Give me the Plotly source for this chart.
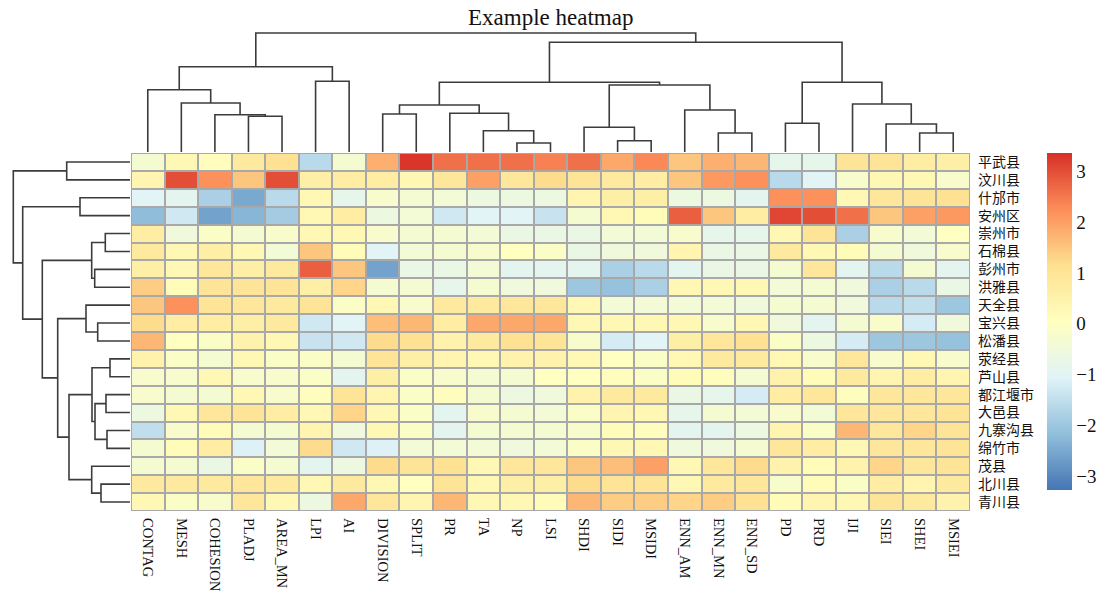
import plotly.graph_objects as go

# ---------------- data ----------------
columns = ["CONTAG", "MESH", "COHESION", "PLADJ", "AREA_MN", "LPI", "AI", "DIVISION", "SPLIT",
           "PR", "TA", "NP", "LSI", "SHDI", "SIDI", "MSIDI", "ENN_AM", "ENN_MN", "ENN_SD",
           "PD", "PRD", "IJI", "SIEI", "SHEI", "MSIEI"]
rows = ["平武县", "汶川县", "什邡市", "安州区", "崇州市", "石棉县", "彭州市", "洪雅县", "天全县", "宝兴县",
        "松潘县", "荥经县", "芦山县", "都江堰市", "大邑县", "九寨沟县", "绵竹市", "茂县", "北川县", "青川县"]

values = [
    [-0.3, 0.3, 0.1, 0.8, 1.1, -1.6, -0.3, 1.8, 3.3, 2.6, 2.6, 2.6, 2.4, 2.6, 1.9, 2.3, 1.5, 1.8, 1.7, -0.8, -0.8, 1.0, 1.0, 0.7, 0.6],
    [0.4, 3.0, 2.2, 1.5, 3.0, 0.6, 0.7, 0.7, 0.3, 0.9, 2.0, 0.9, 1.2, 1.0, 0.8, 0.7, 1.5, 2.1, 2.2, -1.6, -1.0, -0.2, 0.3, 0.3, -0.2],
    [-1.0, -0.9, -1.8, -2.5, -1.6, 0.3, -0.8, -0.2, -0.3, -0.4, -0.6, -0.6, -0.6, 0.4, 0.6, 0.6, -0.6, -0.6, -0.9, 2.2, 2.2, 0.3, 0.9, 1.0, 1.1],
    [-2.2, -1.3, -2.6, -2.3, -1.9, 0.3, 0.7, -0.6, -0.4, -1.3, -1.0, -1.0, -1.4, -0.3, 0.3, 0.2, 2.8, 1.5, 0.7, 3.1, 3.0, 2.6, 1.5, 2.0, 2.1],
    [0.7, -0.5, -0.1, -0.3, -0.2, 0.3, 0.3, -0.2, -0.3, -0.3, -0.4, -0.7, -0.7, -0.7, -0.4, -0.4, -0.2, -0.8, -0.8, 0.3, 1.0, -1.8, -0.2, -0.4, 0.0],
    [0.8, 0.3, 0.6, 0.3, -0.4, 1.5, 0.2, -1.0, -0.4, -0.3, -0.2, 0.0, -0.1, -0.7, -0.5, -0.5, 0.4, -0.7, -0.7, 0.8, 0.3, 0.2, -0.3, -0.5, -0.2],
    [0.6, 0.3, 0.9, 0.6, 0.8, 2.8, 1.5, -2.6, -0.7, -0.7, -0.4, -0.9, -0.9, -0.9, -1.8, -1.6, -0.9, -0.7, -0.7, -0.3, 0.9, -0.9, -1.6, -0.3, -0.9],
    [1.4, 0.2, 1.0, 1.0, 1.0, 0.6, 1.3, -0.3, -0.3, -0.8, -0.3, -0.5, -0.5, -2.0, -2.1, -1.8, 0.3, 0.3, 0.3, -0.4, -0.3, -0.5, -1.8, -1.6, -0.7],
    [1.5, 2.2, 1.0, 0.9, 0.8, 1.0, -0.1, 0.3, -0.2, 0.8, 0.8, 0.9, 0.9, 0.3, -0.4, -0.4, -0.4, -0.4, -0.5, -0.3, -0.3, -0.5, -1.6, -1.5, -2.0],
    [1.2, 0.7, 0.7, 0.6, 0.8, -1.3, -1.0, 1.6, 1.7, 0.7, 1.9, 1.9, 1.9, 0.3, 0.3, 0.3, 0.3, -0.2, 0.3, -0.5, -0.9, -0.3, -0.2, -1.2, -0.5],
    [1.7, 0.0, -0.1, 0.5, 0.3, -1.4, -1.3, 1.2, 1.1, 0.5, 0.8, 1.1, 1.0, -0.2, -1.2, -1.0, 0.6, 0.9, 1.1, -0.1, -0.6, -1.2, -2.0, -2.0, -2.1],
    [0.5, -0.1, -0.3, 0.3, -0.1, -0.1, -0.3, 1.0, 0.6, 0.4, 0.3, 0.5, 0.5, 0.3, 0.0, -0.1, 0.3, 0.8, 0.8, 0.3, -0.2, 0.9, -0.2, 0.3, -0.2],
    [-0.2, -0.2, 0.3, -0.2, -0.2, -0.1, -0.9, 0.6, -0.1, -0.2, -0.3, -0.3, 0.0, 0.0, 0.1, -0.1, 0.2, 0.1, -0.3, 0.5, 0.2, 0.8, 0.4, 0.7, 0.4],
    [-0.2, -0.3, -0.3, 0.3, -0.2, 0.1, 1.0, 0.4, -0.1, 0.1, -0.3, -0.6, -0.5, 0.5, 0.8, 0.8, -0.7, -0.8, -1.2, 0.7, 0.9, 0.1, 0.9, 0.9, 0.9],
    [-0.6, 0.3, 0.9, 1.0, 0.7, 0.3, 1.3, 0.3, -0.1, -0.9, -0.2, -0.3, -0.4, -0.1, 0.4, 0.3, -0.8, -0.3, -0.4, -0.2, -0.4, 0.9, 0.9, 0.9, 1.0],
    [-1.5, -0.2, 0.2, -0.3, -0.3, 0.4, -0.5, 0.3, -0.1, -0.9, -0.3, -0.3, -0.3, -0.2, 0.2, 0.1, -0.9, -0.9, -0.6, 0.4, -0.1, 1.7, 0.9, 1.3, 1.0],
    [-0.3, 0.2, 0.7, -1.1, -0.4, 1.2, -1.3, -1.1, -0.4, -0.4, -0.4, -0.5, -0.4, -0.1, 0.3, 0.3, -0.5, -0.5, -0.3, 0.9, 0.7, 0.3, 0.9, 0.9, 1.0],
    [-0.3, -0.3, -0.7, -0.1, -0.3, -0.9, -0.6, 1.2, 1.0, 1.1, 0.3, 0.9, 0.9, 1.5, 1.6, 2.0, 0.3, 0.9, 1.2, 0.5, 0.2, 0.5, 1.3, 0.9, 1.0],
    [0.8, 0.8, 0.8, 0.9, 0.8, 0.3, 0.8, 0.3, 0.0, 1.0, 0.3, 0.6, 0.6, 1.2, 1.0, 1.0, 0.3, 0.8, 0.9, -0.2, 0.2, -0.1, 0.7, 0.4, 0.8],
    [0.3, -0.1, -0.2, 0.9, 0.3, -0.6, 1.9, 0.9, 0.4, 1.7, 0.3, 0.3, 0.2, 1.7, 1.4, 1.4, 1.3, 1.4, 1.1, 0.2, 0.4, 0.3, 1.0, 0.8, 0.5],
]

# linkage (left, right, height); "#k" refers to the k-th merge
col_links = [
    ("PLADJ", "AREA_MN", 35.7), ("COHESION", "#0", 37.3), ("MESH", "#1", 49.0),
    ("CONTAG", "#2", 62.3), ("LPI", "AI", 70.7), ("#3", "#4", 85.3),
    ("DIVISION", "SPLIT", 38.0), ("NP", "LSI", 9.0), ("TA", "#7", 21.3),
    ("PR", "#8", 38.7), ("#6", "#9", 47.0), ("SIDI", "MSIDI", 11.3),
    ("SHDI", "#11", 24.7), ("ENN_MN", "ENN_SD", 19.0), ("ENN_AM", "#13", 42.0),
    ("#12", "#14", 67.0), ("#10", "#15", 69.7), ("PD", "PRD", 28.7),
    ("SHEI", "MSIEI", 19.0), ("SIEI", "#18", 28.0), ("IJI", "#19", 48.0),
    ("#17", "#20", 69.7), ("#16", "#21", 109.7), ("#5", "#22", 119.0),
]
row_links = [
    ("平武县", "汶川县", 63.3), ("什邡市", "安州区", 50.0), ("崇州市", "石棉县", 24.7),
    ("彭州市", "洪雅县", 35.3), ("#2", "#3", 38.3), ("宝兴县", "松潘县", 32.3),
    ("天全县", "#5", 44.0), ("荥经县", "芦山县", 20.0), ("都江堰市", "大邑县", 24.0),
    ("九寨沟县", "绵竹市", 23.0), ("#8", "#9", 35.0), ("#7", "#10", 38.0),
    ("北川县", "青川县", 29.0), ("茂县", "#12", 38.3), ("#11", "#13", 61.0),
    ("#6", "#14", 72.3), ("#4", "#15", 87.7), ("#1", "#16", 107.3), ("#0", "#17", 116.7),
]

colorbar_ticks = [-3, -2, -1, 0, 1, 2, 3]
z_min, z_max = -3.27, 3.36

# ---------------- helpers ----------------
W, H = 1108, 594
def fx(p): return p / W
def fy(p): return 1 - p / H

def dendro_lines(leaves, links):
    pos = {n: i for i, n in enumerate(leaves)}
    hgt = {n: 0.0 for n in leaves}
    P, Hh = [], []
    for k, (a, b, h) in enumerate(links):
        pa, pb, ha, hb = pos[a], pos[b], hgt[a], hgt[b]
        P += [pa, pa, pb, pb, None]
        Hh += [ha, h, h, hb, None]
        pos["#%d" % k] = (pa + pb) / 2
        hgt["#%d" % k] = h
    return P, Hh

palette = ["#4575B4", "#91BFDB", "#E0F3F8", "#FFFFBF", "#FEE090", "#FC8D59", "#D73027"]
colorscale = [[i / (len(palette) - 1), c] for i, c in enumerate(palette)]

serif = "Liberation Serif, 'Noto Sans CJK SC', serif"
line_col = "#3c3c3c"

nC, nR = len(columns), len(rows)
HM_L, HM_R, HM_T, HM_B = 131, 970, 153, 511

fig = go.Figure()

fig.add_trace(go.Heatmap(
    z=values, x=list(range(nC)), y=list(range(nR)),
    colorscale=colorscale, zmin=z_min, zmax=z_max,
    xgap=2, ygap=2, hoverinfo="skip",
    colorbar=dict(
        x=fx(1047), xanchor="left", y=fy(321.5), yanchor="middle",
        thickness=25, thicknessmode="pixels", len=337, lenmode="pixels",
        tickvals=colorbar_ticks, ticks="", outlinewidth=0, xpad=0, ypad=0,
        tickfont=dict(family=serif, size=19, color="#111111"),
    ),
    xaxis="x", yaxis="y",
))

cx, cy = dendro_lines(columns, col_links)
fig.add_trace(go.Scatter(x=cx, y=cy, mode="lines", line=dict(color=line_col, width=1.6),
                         hoverinfo="skip", showlegend=False, xaxis="x2", yaxis="y2"))

ry, rx = dendro_lines(rows, row_links)
fig.add_trace(go.Scatter(x=rx, y=ry, mode="lines", line=dict(color=line_col, width=1.6),
                         hoverinfo="skip", showlegend=False, xaxis="x3", yaxis="y3"))

hm_xdom = [fx(HM_L), fx(HM_R)]
hm_ydom = [fy(HM_B), fy(HM_T)]
xr = [-0.5, nC - 0.5]
yr = [nR - 0.5, -0.5]

fig.update_layout(
    width=W, height=H, margin=dict(l=0, r=0, t=0, b=0, autoexpand=False),
    paper_bgcolor="white", plot_bgcolor="white", showlegend=False,
    xaxis=dict(domain=hm_xdom, range=xr, anchor="y", tickvals=list(range(nC)), ticktext=columns,
               tickangle=90, ticks="", showgrid=False, zeroline=False, showline=False,
               automargin=False, ticklabelstandoff=6,
               tickfont=dict(family=serif, size=14.5, color="#111111")),
    yaxis=dict(domain=hm_ydom, range=yr, anchor="x", side="right", tickvals=list(range(nR)),
               ticktext=rows, ticks="", showgrid=False, zeroline=False, showline=False,
               automargin=False, ticklabelstandoff=7,
               tickfont=dict(family=serif, size=14, color="#111111")),
    xaxis2=dict(domain=hm_xdom, range=xr, anchor="y2", visible=False),
    yaxis2=dict(domain=[fy(152), 1], range=[0, 152], anchor="x2", visible=False),
    xaxis3=dict(domain=[0, fx(130)], range=[130, 0], anchor="y3", visible=False),
    yaxis3=dict(domain=hm_ydom, range=yr, anchor="x3", visible=False),
    shapes=[dict(type="rect", xref="x", yref="y", x0=xr[0], x1=xr[1], y0=yr[1], y1=yr[0],
                 fillcolor="#A8A8A8", line=dict(color="#A8A8A8", width=2), layer="below")],
    annotations=[dict(text="Example heatmap", x=fx(550), y=fy(18), xref="paper", yref="paper",
                      showarrow=False, xanchor="center", yanchor="middle",
                      font=dict(family=serif, size=23, color="#111111"))],
)

fig.write_html("out.html", config={"displayModeBar": False},
               post_script="document.body.style.margin='0px';")
